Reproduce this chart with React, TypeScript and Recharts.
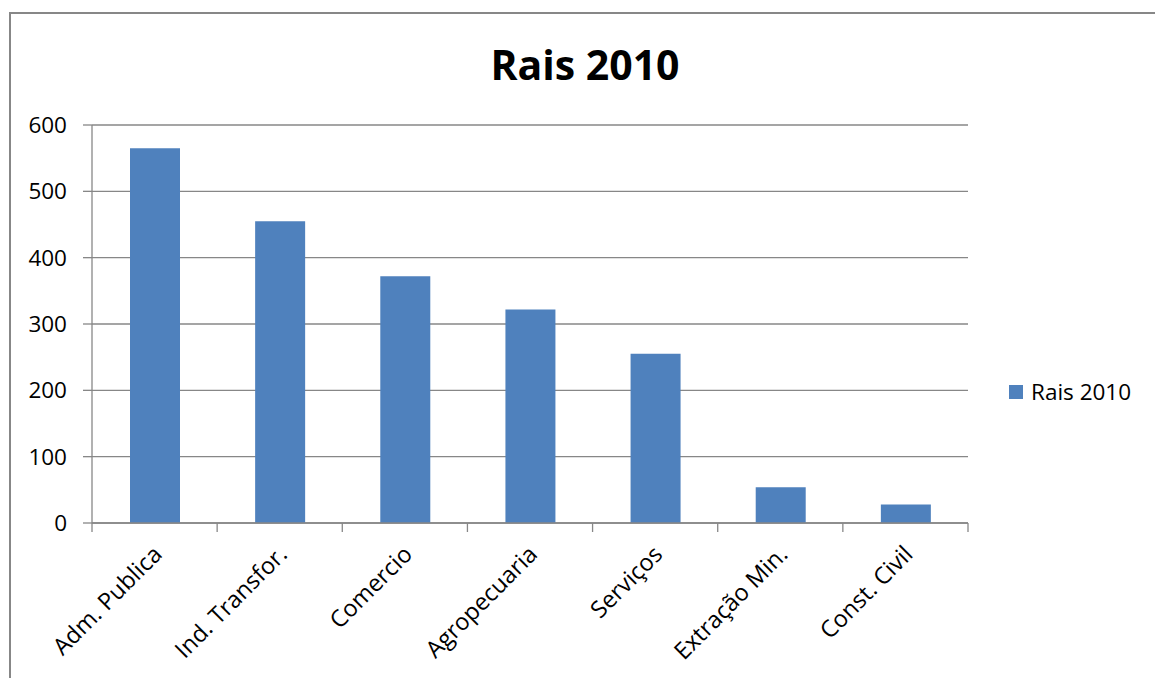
import React from 'react';
import { BarChart, Bar, XAxis, YAxis, CartesianGrid, Legend } from 'recharts';

const categories = ['Adm. Publica', 'Ind. Transfor.', 'Comercio', 'Agropecuaria', 'Serviços', 'Extração Min.', 'Const. Civil'];
const rais2010 = [565, 455, 372, 322, 255, 54, 28];
const yTicks = [0, 100, 200, 300, 400, 500, 600];
const boundaryTicks = [0, 1, 2, 3, 4, 5, 6, 7];

const data = categories.map((c, i) => ({ name: c, pos: i + 0.5, value: rais2010[i] }));

const FONT = '"Open Sans", sans-serif';
const GRID = '#878787';
const BAR = '#4F81BD';

const CatTick = (props: any) => {
  const { x, y, payload } = props;
  return (
    <g transform={`translate(${x + 3},${y})`}>
      <text transform="rotate(-45)" textAnchor="end" dy="0.35em" fontSize={23.5} fontFamily={FONT} fill="#000">
        {payload.value}
      </text>
    </g>
  );
};

const EmptyTick = () => <g />;

const LegendContent = () => (
  <div style={{ display: 'flex', alignItems: 'center', fontFamily: FONT, fontSize: 22.5, color: '#000' }}>
    <span style={{ display: 'inline-block', width: 14, height: 14, background: BAR, marginRight: 8 }} />
    <span>Rais 2010</span>
  </div>
);

export default function App() {
  return (
    <div style={{ position: 'fixed', left: 0, top: 0, width: 1155, height: 678, overflow: 'hidden', background: '#fff' }}>
      <div style={{ position: 'absolute', left: 9, top: 12, width: 1200, height: 720, border: '2px solid #878787', boxSizing: 'border-box' }} />
      <div style={{ position: 'absolute', left: 0, top: 36, width: 1170, textAlign: 'center', fontFamily: FONT, fontWeight: 700, fontSize: 41, color: '#000', lineHeight: '56px' }}>
        Rais 2010
      </div>
      <div style={{ position: 'absolute', left: 0, top: 0 }}>
        <BarChart width={1155} height={678} data={data} margin={{ top: 125, right: 187, bottom: 0, left: 0 }}>
          <CartesianGrid xAxisId="a_ticks" vertical={false} stroke={GRID} strokeWidth={1.3} />
          <XAxis xAxisId="a_ticks" type="number" dataKey="pos" domain={[0, 7]} ticks={boundaryTicks} interval={0} tick={<EmptyTick />} tickSize={9} axisLine={{ stroke: GRID, strokeWidth: 1.3 }} tickLine={{ stroke: GRID, strokeWidth: 1.3 }} height={1} allowDataOverflow />
          <XAxis xAxisId="b_cat" dataKey="name" interval={0} tickLine={false} axisLine={false} tick={<CatTick />} height={154} tickSize={0} tickMargin={26} />
          <YAxis domain={[0, 600]} ticks={yTicks} width={92} tickSize={9} tickMargin={16} tick={{ fontSize: 22.5, fontFamily: FONT, fill: '#000' }} axisLine={{ stroke: GRID, strokeWidth: 1.3 }} tickLine={{ stroke: GRID, strokeWidth: 1.3 }} />
          <Bar xAxisId="b_cat" dataKey="value" name="Rais 2010" fill={BAR} barSize={50} isAnimationActive={false} />
          <Legend layout="horizontal" verticalAlign="middle" align="center" content={<LegendContent />} wrapperStyle={{ position: 'absolute', left: 1009, top: 376, width: 146 }} />
        </BarChart>
      </div>
    </div>
  );
}
